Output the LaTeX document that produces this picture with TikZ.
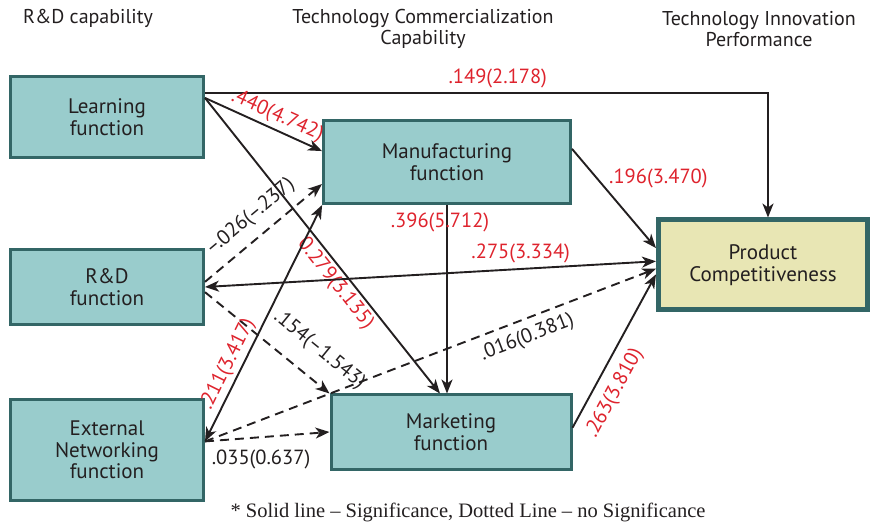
\documentclass[tikz,border=0pt]{standalone}
\usepackage{fontspec}
\setmainfont{PT Sans}
\newfontfamily\notefont{Liberation Serif}
\usetikzlibrary{arrows.meta}
\definecolor{boxfill}{RGB}{153,204,204}
\definecolor{boxline}{RGB}{51,102,102}
\definecolor{prodfill}{RGB}{232,230,180}
\definecolor{coefred}{RGB}{222,35,45}
\definecolor{ink}{RGB}{35,31,32}
\tikzset{
  fn/.style={draw=boxline, fill=boxfill, line width=3pt, align=center,
    text=ink, font=\fontsize{21}{21.5}\selectfont},
  sig/.style={-{Stealth[length=14pt,width=11pt,inset=4pt]}, line width=1.9pt, draw=ink},
  nsig/.style={sig, dash pattern=on 9pt off 6pt},
  coef/.style={text=coefred, font=\fontsize{20.5}{21}\selectfont, inner sep=1pt},
  coefns/.style={coef, text=ink},
  head/.style={align=center, text=ink, font=\fontsize{20}{21.5}\selectfont}
}
\begin{document}
\begin{tikzpicture}[x=1pt, y=-1pt]
  \useasboundingbox (0,0) rectangle (873,526);
  \node[head] (h1) at (88,18) {R\&D capability};
  \node[head] (h2) at (423,29) {Technology Commercialization\\Capability};
  \node[head] (h3) at (759,29) {Technology Innovation\\Performance};
  \node[fn, minimum width=193pt, minimum height=81pt] (learn) at (107,117) {Learning\\function};
  \node[fn, minimum width=193pt, minimum height=75pt] (rnd) at (107,287) {R\&D\\function};
  \node[fn, minimum width=193pt, minimum height=101pt] (ext) at (107,450) {External\\Networking\\function};
  \node[fn, minimum width=247pt, minimum height=83pt] (manu) at (447,162) {Manufacturing\\function};
  \node[fn, minimum width=240pt, minimum height=74pt] (mark) at (451,432) {Marketing\\function};
  \node[fn, fill=prodfill, line width=5pt, minimum width=209pt, minimum height=90pt] (prod) at (763,265) {Product\\Competitiveness};
  \node[font=\notefont\fontsize{20.5}{22}\selectfont, text=ink] (note) at (468,512)
    {* Solid line – Significance, Dotted Line – no Significance};
  \begin{scope}[sig]
    \draw (learn.14) -| node[coef, pos=0.26, above=3pt] {.149(2.178)} (prod.84);
    \draw (learn.11) -- node[coef, sloped, pos=0.57, above=2pt] {.440(4.742)} (manu.175);
    \draw (learn.11) -- node[coef, sloped, pos=0.6, below=2pt] {0.279(3.135)} (mark.106);
    \draw[nsig] (rnd.3) -- node[coefns, sloped, pos=0.5, above=9pt] {–.026(–.237)} (manu.190);
    \draw[{Stealth[length=14pt,width=11pt,inset=4pt]}-{Stealth[length=14pt,width=11pt,inset=4pt]}]
      (rnd.east) -- node[coef, pos=0.7, above=4pt] {.275(3.334)} (prod.178);
    \draw[nsig] (rnd.-3) -- node[coefns, sloped, pos=0.78, above=16pt] {.154(–1.543)} (mark.north west);
    \draw[{Stealth[length=14pt,width=11pt,inset=4pt]}-{Stealth[length=14pt,width=11pt,inset=4pt]}]
      (ext.5) -- node[coef, sloped, pos=0.3, above=2pt] {.211(3.417)} (manu.199);
    \draw[nsig] (ext.5) -- node[coefns, sloped, pos=0.7, below=7pt] {.016(0.381)} (prod.182);
    \draw[nsig] (ext.5) -- node[coefns, pos=0.45, below=11pt] {.035(0.637)} (mark.west);
    \draw (manu.south) -- node[coef, pos=0.09, xshift=-7pt] {.396(5.712)} (manu.south |- mark.north);
    \draw (manu.6) -- node[coef, pos=0.3, right=10pt] {.196(3.470)} (prod.171);
    \draw (mark.2) -- node[coef, sloped, pos=0.29, below=9pt] {.263(3.810)} (prod.185);
  \end{scope}
\end{tikzpicture}
\end{document}
